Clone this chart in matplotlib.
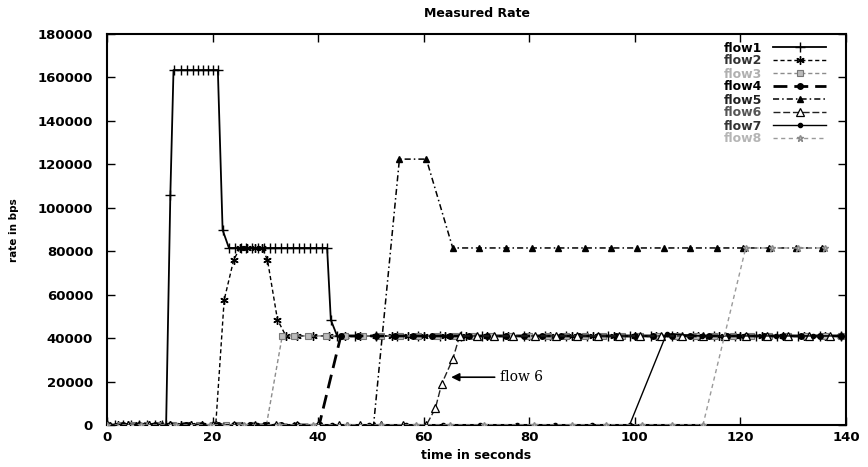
import matplotlib
matplotlib.use("Agg")
import matplotlib.pyplot as plt

# time (s) and measured rate (bps) for each flow
t1 = [0, 1.5, 3, 4.5, 6, 7.5, 9, 10.5, 11.2, 12.0, 12.6, 14.0, 15.2, 16.2, 17.2, 18.2,
      19.1, 20.1, 21.0, 21.9, 23.1, 24.2, 25.3, 26.4, 27.5, 28.6, 29.7, 30.8, 31.9,
      33.0, 34.1, 35.2, 36.3, 37.4, 38.5, 39.6, 40.7, 41.7, 42.4, 43.6, 47, 51, 55,
      59, 63, 67, 71, 75, 79, 83, 87, 91, 95, 99, 103, 107, 111, 115, 119, 123, 127,
      131, 135, 139]
v1 = [0, 0, 0, 0, 0, 0, 0, 0, 0, 106000, 163400, 163400, 163400, 163400, 163400,
      163400, 163400, 163400, 163400, 89800, 81500, 81500, 81500, 81500, 81500, 81500,
      81500, 81500, 81500, 81500, 81500, 81500, 81500, 81500, 81500, 81500, 81500,
      81500, 48400, 41000, 41000, 41000, 41000, 41000, 41000, 41000, 41000, 41000,
      41000, 41000, 41000, 41000, 41000, 41000, 41000, 41000, 41000, 41000, 41000,
      41000, 41000, 41000, 41000, 41000]

t2 = [0, 2, 4, 6, 8, 10, 12, 14, 16, 18, 20.6, 22.2, 24.0, 25.2, 26.6, 28.0, 29.4,
      30.4, 32.3, 33.9, 36, 39, 42, 45, 48, 51, 54, 57, 60, 64, 68, 72, 76, 80, 84,
      88, 92, 96, 100, 104, 108, 112, 116, 120, 124, 128, 132, 136, 139]
v2 = [0, 0, 0, 0, 0, 0, 0, 0, 0, 0, 0, 57600, 76000, 81500, 81500, 81500, 81500,
      76000, 48400, 41000, 41000, 41000, 41000, 41000, 41000, 41000, 41000, 41000,
      41000, 41000, 41000, 41000, 41000, 41000, 41000, 41000, 41000, 41000, 41000,
      41000, 41000, 41000, 41000, 41000, 41000, 41000, 41000, 41000, 41000]

t3 = [0, 2.5, 5, 7.5, 10, 12.5, 15, 17.5, 20, 22.5, 25, 27.5, 30.2, 33.2, 35.5, 38,
      41.5, 45, 48.5, 52, 55.5, 59, 62.5, 66, 69.5, 73, 76.5, 80, 83.5, 87, 90.5, 94,
      97.5, 101, 104.5, 108, 111.5, 115, 118.5, 122, 125.5, 129, 132.5, 136, 139]
v3 = [0, 0, 0, 0, 0, 0, 0, 0, 0, 0, 0, 0, 0, 41000, 41000, 41000, 41000, 41000,
      41000, 41000, 41000, 41000, 41000, 41000, 41000, 41000, 41000, 41000, 41000,
      41000, 41000, 41000, 41000, 41000, 41000, 41000, 41000, 41000, 41000, 41000,
      41000, 41000, 41000, 41000, 41000]

t4 = [0, 3, 6, 9, 12, 15, 18, 21, 24, 27, 30, 33, 36, 40.2, 44.3, 47.5, 51, 54.5,
      58, 61.5, 65, 68.5, 72, 75.5, 79, 82.5, 86, 89.5, 93, 96.5, 100, 103.5, 107,
      110.5, 114, 117.5, 121, 124.5, 128, 131.5, 135, 139]
v4 = [0, 0, 0, 0, 0, 0, 0, 0, 0, 0, 0, 0, 0, 0, 41000, 41000, 41000, 41000, 41000,
      41000, 41000, 41000, 41000, 41000, 41000, 41000, 41000, 41000, 41000, 41000,
      41000, 41000, 41000, 41000, 41000, 41000, 41000, 41000, 41000, 41000, 41000,
      41000]

t5 = [0.5, 5.5, 10.5, 15.5, 20.5, 25.5, 30.5, 35.5, 40.5, 45.5, 50.5, 55.4, 60.5,
      65.5, 70.5, 75.5, 80.5, 85.5, 90.5, 95.5, 100.5, 105.5, 110.5, 115.5, 120.5,
      125.5, 130.5, 135.5]
v5 = [0, 0, 0, 0, 0, 0, 0, 0, 0, 0, 0, 122400, 122400, 81500, 81500, 81500, 81500,
      81500, 81500, 81500, 81500, 81500, 81500, 81500, 81500, 81500, 81500, 81500]

t6 = [0, 4, 8, 12, 16, 20, 24, 28, 32, 36, 40, 44, 48, 52, 56, 60.5, 62.2, 63.4,
      65.5, 66.8, 70, 73.3, 77, 81, 85, 89, 93, 97, 101, 105, 109, 113, 117, 121,
      125, 129, 133, 137]
v6 = [0, 0, 0, 0, 0, 0, 0, 0, 0, 0, 0, 0, 0, 0, 0, 0, 7600, 18900, 30300, 41000,
      41000, 41000, 41000, 41000, 41000, 41000, 41000, 41000, 41000, 41000, 41000,
      41000, 41000, 41000, 41000, 41000, 41000, 41000]

t7 = [0, 7.1, 14.2, 21.3, 28.4, 35.5, 42.6, 49.7, 56.7, 63.7, 70.7, 77.6, 84.9,
      91.9, 99.0, 106.0, 112.8, 119.8, 126.8, 133.8, 139]
v7 = [0, 0, 0, 0, 0, 0, 0, 0, 0, 0, 0, 0, 0, 0, 0, 42000, 41000, 41000, 41000,
      41000, 41000]

t8 = [0, 6.5, 13, 19.5, 26, 32.5, 39, 45.5, 52, 58.5, 65, 71.5, 80.8, 88, 94.5,
      101.3, 107, 112.9, 121.0, 126, 131, 136]
v8 = [0, 0, 0, 0, 0, 0, 0, 0, 0, 0, 0, 0, 0, 0, 0, 0, 0, 0, 81500, 81500, 81500,
      81500]

times = [t1, t2, t3, t4, t5, t6, t7, t8]
rates = [v1, v2, v3, v4, v5, v6, v7, v8]
labels = ["flow1", "flow2", "flow3", "flow4", "flow5", "flow6", "flow7", "flow8"]
label_colors = ["black", "#333333", "#b0b0b0", "black", "#222222", "#555555",
                "#333333", "#b5b5b5"]

styles = [
    dict(color="black", ls="-", lw=1.3, marker="+", ms=7, mew=1.0),
    dict(color="black", ls=(0, (3, 2)), lw=1.0, marker=(6, 2, 0), ms=6, mew=1.0),
    dict(color="#8c8c8c", ls=(0, (3, 2)), lw=1.0, marker="s", ms=4.5, mfc="#bbbbbb",
         mec="#777777", mew=0.8),
    dict(color="black", ls=(0, (5, 2.5)), lw=2.0, marker="o", ms=4),
    dict(color="black", ls=(0, (4, 2, 1, 2)), lw=1.1, marker="^", ms=4.5),
    dict(color="#222222", ls=(0, (5, 2)), lw=1.0, marker="^", ms=5.5, mfc="white",
         mec="black", mew=0.9),
    dict(color="black", ls="-", lw=1.0, marker="o", ms=3),
    dict(color="#9a9a9a", ls=(0, (3, 2.5)), lw=1.0, marker="*", ms=5, mec="#8a8a8a",
         mfc="#c0c0c0"),
]

fig = plt.figure(figsize=(8.68, 4.67), dpi=100)
ax = fig.add_axes([107 / 868, 1 - 425 / 467, (846 - 107) / 868, (425 - 34) / 467])

for t, v, lab, st in zip(times, rates, labels, styles):
    ax.plot(t, v, label=lab, zorder=3, **st)

ax.set_xlim(0, 140)
ax.set_ylim(0, 180000)
ax.set_xticks(range(0, 141, 20))
ax.set_yticks(range(0, 180001, 20000))
ax.tick_params(direction="in", length=6, width=1.0, top=True, right=True,
               labelsize=9.5)
ax.tick_params(axis="x", pad=4)
ax.tick_params(axis="y", pad=10)
for lab in ax.get_xticklabels() + ax.get_yticklabels():
    lab.set_fontweight("bold")
for s in ax.spines.values():
    s.set_linewidth(1.5)

ax.set_title("Measured Rate", fontsize=9, fontweight="bold", pad=12)
ax.set_xlabel("time in seconds", fontsize=9, fontweight="bold", labelpad=4)
fig.text(14 / 868, 1 - 230 / 467, "rate in bps", rotation=90, fontsize=7.5,
         fontweight="bold", ha="center", va="center")

ax.annotate("flow 6", xy=(65.2, 22000), xytext=(74.5, 22000), fontsize=10,
            family="DejaVu Serif", va="center",
            arrowprops=dict(arrowstyle="-|>", color="black", lw=1.2,
                            mutation_scale=12, shrinkA=2, shrinkB=0))

leg = ax.legend(loc="upper right", bbox_to_anchor=(0.983, 1.0), frameon=False,
                markerfirst=False, handlelength=4.2, fontsize=9,
                labelspacing=0.0, handletextpad=0.9, borderaxespad=0.2)
for txt, c in zip(leg.get_texts(), label_colors):
    txt.set_color(c)
    txt.set_fontweight("bold")

fig.savefig("out.png", dpi=100)
